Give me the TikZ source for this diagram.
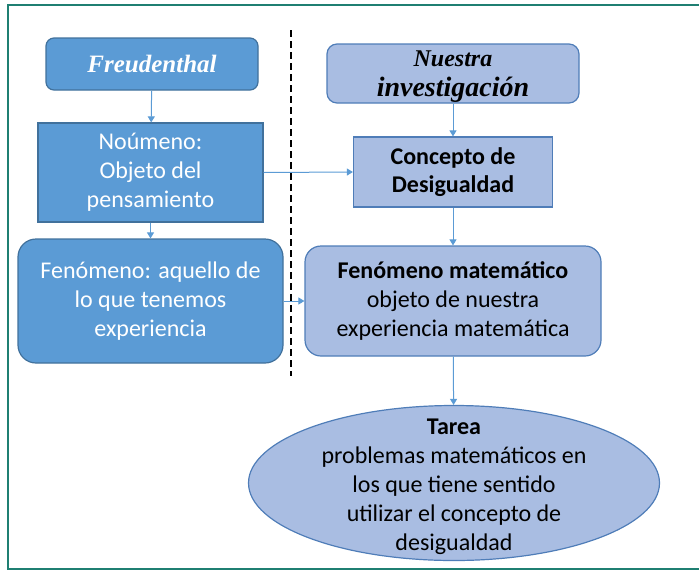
\documentclass[tikz,border=0pt]{standalone}
\usepackage{fontspec}
\setmainfont{Carlito}
\newfontfamily\timesfont{Liberation Serif}
\usetikzlibrary{shapes.geometric,arrows.meta}
\definecolor{darkblue}{HTML}{5B9BD5}
\definecolor{darkedge}{HTML}{41719C}
\definecolor{lightblue}{HTML}{A9BDE2}
\definecolor{lightedge}{HTML}{4F7DB8}
\definecolor{framecol}{HTML}{1F7F72}
\definecolor{arrowcol}{HTML}{5B9BD5}
\begin{document}
\begin{tikzpicture}[x=1pt, y=-1pt,
    darkbox/.style = {draw=darkedge, fill=darkblue, line width=1.2pt, text=white, align=center, inner sep=0pt, font=\fontsize{24}{29}\selectfont},
    lightbox/.style = {draw=lightedge, fill=lightblue, line width=1.2pt, text=black, align=center, inner sep=0pt, font=\fontsize{24}{29}\selectfont},
    link/.style = {draw=arrowcol, line width=1pt, -{Triangle[width=7pt,length=6pt]}}]
                \useasboundingbox (0,0) rectangle (699,571);
                \draw[framecol, line width=2pt] (699,5) -- (8,5) -- (8,569) -- (699,569);
                \draw[black, line width=1.8pt, dash pattern=on 7pt off 4pt] (291,30) -- (291,376);
                % left column
                \node[darkbox, rounded corners=8pt, minimum width=212, minimum height=52,
                      font=\timesfont\bfseries\itshape\fontsize{25}{30}\selectfont] (freud) at (152,64) {Freudenthal};
                \node[darkbox, minimum width=225, minimum height=99] (noumeno) at (150.5,172.5)
                    {Noúmeno:\\Objeto del\\pensamiento};
                \node[darkbox, rounded corners=18pt, minimum width=265, minimum height=124] (fenomeno) at (150.5,301)
                    {Fenómeno: aquello de\\lo que tenemos\\experiencia};
                % right column
                \node[lightbox, rounded corners=10pt, minimum width=252, minimum height=59, text depth=-4pt,
                      font=\timesfont\bfseries\itshape\fontsize{28}{30}\selectfont] (nuestra) at (453,73.5)
                    {{\fontsize{24}{26}\selectfont Nuestra}\\investigación};
                \node[lightbox, minimum width=199, minimum height=70,
                      font=\bfseries\fontsize{24}{28}\selectfont] (concepto) at (453,172)
                    {Concepto de\\Desigualdad};
                \node[lightbox, rounded corners=16pt, minimum width=296, minimum height=110] (fenmat) at (453,301)
                    {\bfseries Fenómeno matemático\\objeto de nuestra\\experiencia matemática};
                \node[lightbox, ellipse, minimum width=411, minimum height=155] (tarea) at (454,483)
                    {\makebox[0pt]{\raisebox{-10pt}[0pt][0pt]{\begin{tabular}{@{}c@{}}\bfseries Tarea\\problemas matemáticos en\\los que tiene sentido\\utilizar el concepto de\\desigualdad\end{tabular}}}};
                % arrows
                \draw[link] (freud) -- (noumeno);
                \draw[link] (noumeno) -- (fenomeno);
                \draw[link] (noumeno.east) -- (concepto.west);
                \draw[link] (fenomeno.east) -- (fenmat.west);
                \draw[link] (nuestra) -- (concepto);
                \draw[link] (concepto) -- (fenmat);
                \draw[link] (fenmat) -- (tarea);
\end{tikzpicture}
\end{document}
